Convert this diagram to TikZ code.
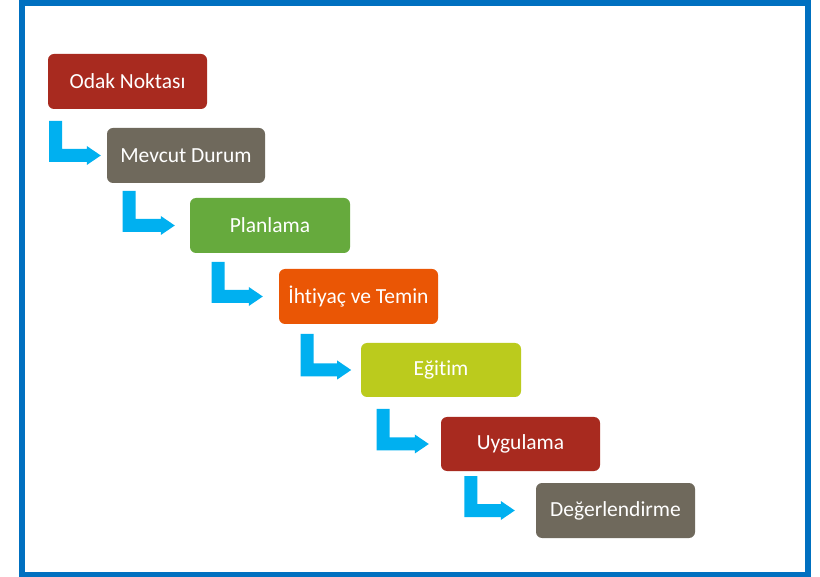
\documentclass[tikz,border=0pt]{standalone}
\usepackage{fontspec}
\setmainfont{Carlito}[Ligatures={NoCommon,NoRequired,NoContextual}]
\usetikzlibrary{calc}
\definecolor{framec}{HTML}{0070C0}
\definecolor{arrowc}{HTML}{00B0F0}
\definecolor{redc}{HTML}{A82A1F}
\definecolor{grayc}{HTML}{6F695C}
\definecolor{greenc}{HTML}{66AA3D}
\definecolor{orangec}{HTML}{EA5605}
\definecolor{limec}{HTML}{BBCB1D}
\tikzset{
  stage/.style={rounded corners=6pt, text=white, font=\fontsize{21.5}{25}\selectfont, align=center, minimum height=55pt, inner sep=0pt},
  blockarrow/.style={fill=arrowc, draw=none}
}
% #1 bar left x, #2 bar top y, #3 target node, #4 gap before target
\newcommand{\stepArrow}[4]{%
  \fill[blockarrow] let \p1=($(#3.west)+(-#4pt,0)$) in
    (#1,#2) -- ++(13pt,0) |- (\x1-14pt,\y1+6.5pt) -- (\x1-14pt,\y1+9.5pt)
    -- (\x1,\y1) -- (\x1-14pt,\y1-9.5pt) -- (\x1-14pt,\y1-6.5pt) -| cycle;
}
\begin{document}
\begin{tikzpicture}[x=1pt,y=-1pt]
\useasboundingbox (0,0) rectangle (820,577);
\fill[white] (0,0) rectangle (820,577);
\draw[framec, line width=6pt] (22,3.5) rectangle (808,574.5);
\node[stage, fill=redc, minimum width=159pt] (n1) at (127.5,81.5) {Odak Noktası};
\node[stage, fill=grayc, minimum width=158pt] (n2) at (186,155.5) {Mevcut Durum};
\node[stage, fill=greenc, minimum width=160pt] (n3) at (270,225.5) {Planlama};
\node[stage, fill=orangec, minimum width=159pt] (n4) at (358.5,296.5) {İhtiyaç ve Temin};
\node[stage, fill=limec, minimum width=160pt, minimum height=54pt] (n5) at (441,370) {Eğitim};
\node[stage, fill=redc, minimum width=159pt, minimum height=54pt] (n6) at (520.5,444) {Uygulama};
\node[stage, fill=grayc, minimum width=159pt] (n7) at (615.5,510.5) {Değerlendirme};
\stepArrow{49}{121}{n2}{6}
\stepArrow{122.7}{191}{n3}{15}
\stepArrow{211.7}{262}{n4}{16}
\stepArrow{300.7}{334}{n5}{9.6}
\stepArrow{376.7}{409}{n6}{12}
\stepArrow{464.3}{476}{n7}{21}
\end{tikzpicture}
\end{document}
